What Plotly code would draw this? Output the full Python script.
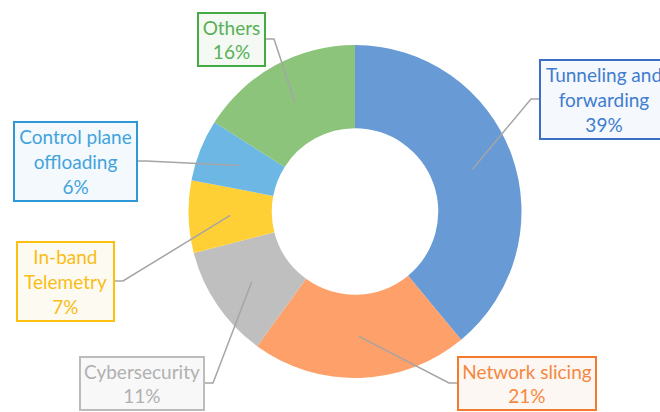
import math
import plotly.graph_objects as go

# ---- data ----
categories = ["Tunneling and<br>forwarding", "Network slicing", "Cybersecurity",
              "In-band<br>Telemetry", "Control plane<br>offloading", "Others"]
values = [39, 21, 11, 7, 6, 16]
pct_labels = ["39%", "21%", "11%", "7%", "6%", "16%"]

# ---- styles ----
slice_colors = ["#689bd6", "#fda06a", "#bfbfbf", "#ffd035", "#6db7e4", "#8bc47a"]
text_colors = ["#3f7dcf", "#f5883f", "#b0b0b0", "#f9bd16", "#42a3dc", "#58b058"]
border_colors = ["#3c6fc3", "#f47b2e", "#bcbcbc", "#fcc010", "#2f99d8", "#44ab44"]
bg_colors = ["#f5f8fd", "#fdf7f3", "#f8f8f8", "#fdfaf1", "#f3f9fd", "#f4faf3"]

W, H = 660, 412
CX, CY, R = 355.0, 211.5, 166.5
HOLE = 0.5

# label box layout in pixels: left, top, width, height, connector side, connector y
boxes = [
    (539, 59, 130, 81, "left", 99),
    (457, 356, 140, 55, "left", 383),
    (79, 356, 126, 55, "right", 383),
    (16, 241, 99, 81, "right", 281),
    (13, 121, 125, 81, "right", 161),
    (197, 12, 69, 55, "right", 39),
]
STUB = 8


def px(x):
    return x / W


def py(y):
    return 1 - y / H


fig = go.Figure(go.Pie(
    values=values,
    labels=[c.replace("<br>", " ") for c in categories],
    sort=False,
    direction="clockwise",
    rotation=0,
    hole=HOLE,
    marker=dict(colors=slice_colors, line=dict(width=0)),
    textinfo="none",
    hoverinfo="label+percent",
    domain=dict(x=[px(CX - R), px(CX + R)], y=[py(CY + R), py(CY - R)]),
    showlegend=False,
))

total = sum(values)
ra = R * (1 + HOLE) / 2
annotations = []
shapes = []
cum = 0
for i, v in enumerate(values):
    mid = (cum + v / 2) / total * 2 * math.pi
    cum += v
    ax = CX + ra * math.sin(mid)
    ay = CY - ra * math.cos(mid)
    left, top, bw, bh, side, cy = boxes[i]
    if side == "left":
        ex = left
        sx = left - STUB
    else:
        ex = left + bw
        sx = left + bw + STUB
    path = f"M {px(ex)},{py(cy)} L {px(sx)},{py(cy)} L {px(ax)},{py(ay)}"
    shapes.append(dict(type="path", xref="paper", yref="paper", path=path,
                       line=dict(color="#a5a5a5", width=1.5)))
    annotations.append(dict(
        x=px(left), y=py(top), xref="paper", yref="paper",
        xanchor="left", yanchor="top",
        text=f"{categories[i]}<br>{pct_labels[i]}",
        showarrow=False, align="center", valign="middle",
        width=bw - 4, height=bh - 4, borderpad=0, borderwidth=2,
        bordercolor=border_colors[i], bgcolor=bg_colors[i],
        font=dict(family="Lato", size=19, color=text_colors[i]),
    ))

fig.update_layout(
    width=W, height=H,
    margin=dict(l=0, r=0, t=0, b=0),
    paper_bgcolor="white",
    plot_bgcolor="white",
    shapes=shapes,
    annotations=annotations,
)

fig.write_html(
    "out.html",
    config={"displayModeBar": False},
    post_script="document.body.style.margin='0';document.body.style.overflow='hidden';",
)
